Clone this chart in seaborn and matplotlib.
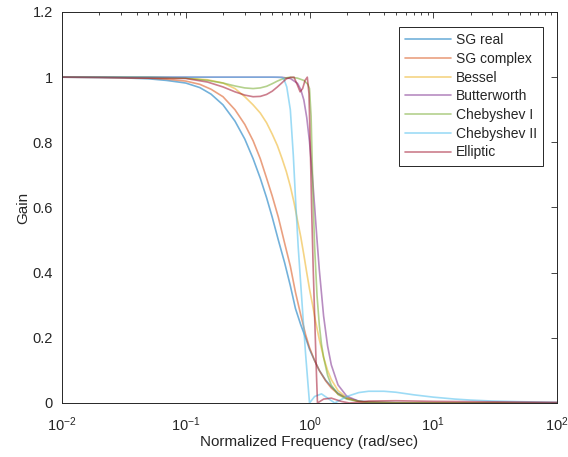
import matplotlib
matplotlib.use("Agg")
import matplotlib.pyplot as plt
from matplotlib.ticker import LogLocator, FuncFormatter, NullFormatter, MultipleLocator
import pandas as pd
import seaborn as sns

# Filter names, in plotting order, and their line colours
names = ["SG real", "SG complex", "Bessel", "Butterworth",
         "Chebyshev I", "Chebyshev II", "Elliptic"]
colors = ["#0072BD", "#D95319", "#EDB120", "#7E2F8E",
          "#77AC30", "#4DBEEE", "#A2142F"]

# Magnitude responses: normalized frequency (rad/sec) and gain
sg_real_w = [0.01, 0.02, 0.03, 0.05, 0.07, 0.1, 0.13, 0.16, 0.2, 0.25, 0.3, 0.35,
             0.4, 0.45, 0.5, 0.56, 0.63, 0.7, 0.77, 0.85, 0.93, 1.0, 1.1, 1.2,
             1.35, 1.5, 1.7, 2.0, 2.5, 3.0, 5.0, 10.0, 100.0]
sg_real_g = [1.0, 0.999, 0.998, 0.995, 0.99, 0.982, 0.968, 0.948, 0.915, 0.865, 0.81, 0.75,
             0.69, 0.63, 0.57, 0.5, 0.43, 0.36, 0.29, 0.24, 0.2, 0.165, 0.13, 0.1,
             0.07, 0.05, 0.03, 0.015, 0.006, 0.003, 0.001, 0.0, 0.0]

sg_cplx_w = [0.01, 0.02, 0.03, 0.05, 0.07, 0.1, 0.13, 0.16, 0.2, 0.25, 0.3, 0.35,
             0.4, 0.45, 0.5, 0.56, 0.63, 0.7, 0.77, 0.85, 0.93, 1.0, 1.1, 1.2,
             1.35, 1.5, 1.7, 2.0, 2.5, 3.0, 5.0, 100.0]
sg_cplx_g = [1.0, 1.0, 0.999, 0.997, 0.994, 0.988, 0.978, 0.963, 0.94, 0.9, 0.855, 0.805,
             0.75, 0.69, 0.635, 0.57, 0.49, 0.42, 0.34, 0.27, 0.21, 0.17, 0.13, 0.1,
             0.068, 0.046, 0.028, 0.014, 0.005, 0.002, 0.001, 0.0]

bessel_w = [0.01, 0.05, 0.1, 0.15, 0.2, 0.25, 0.3, 0.35, 0.4, 0.45, 0.5, 0.55, 0.6,
            0.65, 0.7, 0.75, 0.8, 0.85, 0.9, 0.95, 1.0, 1.06, 1.12, 1.2, 1.3, 1.4,
            1.5, 1.7, 2.0, 2.5, 3.0, 5.0, 100.0]
bessel_g = [1.0, 0.9995, 0.997, 0.992, 0.982, 0.965, 0.94, 0.915, 0.89, 0.86, 0.825, 0.79, 0.75,
            0.71, 0.665, 0.615, 0.56, 0.51, 0.455, 0.4, 0.35, 0.3, 0.25, 0.195, 0.14, 0.1,
            0.072, 0.038, 0.016, 0.005, 0.002, 0.0002, 0.0]

butter_w = [0.01, 0.3, 0.5, 0.6, 0.7, 0.8, 0.85, 0.9, 0.95, 1.0, 1.05, 1.1, 1.15,
            1.2, 1.3, 1.4, 1.5, 1.7, 2.0, 2.5, 3.0, 4.0, 100.0]
butter_g = [1.0, 1.0, 1.0, 0.9995, 0.996, 0.981, 0.962, 0.93, 0.876, 0.802, 0.707, 0.603, 0.501,
            0.409, 0.267, 0.175, 0.117, 0.0555, 0.0209, 0.0055, 0.0018, 0.0003, 0.0]

cheby1_w = [0.01, 0.05, 0.1, 0.15, 0.2, 0.25, 0.3, 0.35, 0.4, 0.45, 0.5, 0.55, 0.6,
            0.65, 0.7, 0.8, 0.9, 0.97, 1.0, 1.03, 1.05, 1.07, 1.1, 1.15, 1.2, 1.25,
            1.3, 1.4, 1.5, 1.7, 2.0, 2.5, 3.0, 5.0, 100.0]
cheby1_g = [1.0, 0.9995, 0.997, 0.99, 0.982, 0.973, 0.967, 0.965, 0.967, 0.972, 0.98, 0.988, 0.994,
            0.998, 1.0, 0.997, 0.99, 0.978, 0.965, 0.88, 0.75, 0.62, 0.48, 0.33, 0.24, 0.18,
            0.14, 0.085, 0.055, 0.026, 0.012, 0.005, 0.002, 0.0004, 0.0]

cheby2_w = [0.01, 0.3, 0.55, 0.6, 0.62, 0.655, 0.7, 0.74, 0.77, 0.81, 0.88, 0.93, 1.0,
            1.1, 1.25, 1.4, 1.6, 2.0, 2.5, 3.0, 4.0, 5.0, 7.0, 10.0, 15.0, 20.0,
            30.0, 50.0, 100.0]
cheby2_g = [1.0, 1.0, 1.0, 0.999, 0.995, 0.97, 0.9, 0.76, 0.63, 0.48, 0.28, 0.15, 0.0,
            0.02, 0.028, 0.015, 0.0, 0.02, 0.032, 0.036, 0.036, 0.033, 0.025, 0.018, 0.012, 0.009,
            0.006, 0.004, 0.002]

ellip_w = [0.01, 0.1, 0.15, 0.2, 0.25, 0.3, 0.35, 0.4, 0.45, 0.5, 0.55, 0.6, 0.65,
           0.7, 0.75, 0.8, 0.84, 0.88, 0.92, 0.96, 0.99, 1.02, 1.04, 1.07, 1.11, 1.14,
           1.16, 1.3, 1.5, 1.8, 2.1, 3.0, 5.0, 10.0, 100.0]
ellip_g = [1.0, 0.996, 0.985, 0.97, 0.955, 0.945, 0.94, 0.941, 0.947, 0.957, 0.97, 0.983, 0.995,
           0.999, 1.0, 0.975, 0.955, 0.965, 0.99, 1.0, 0.95, 0.75, 0.6, 0.42, 0.22, 0.08,
           0.0, 0.012, 0.015, 0.005, 0.0, 0.006, 0.007, 0.005, 0.002]

series = [(sg_real_w, sg_real_g), (sg_cplx_w, sg_cplx_g), (bessel_w, bessel_g),
          (butter_w, butter_g), (cheby1_w, cheby1_g), (cheby2_w, cheby2_g),
          (ellip_w, ellip_g)]

frames = []
for name, (w, g) in zip(names, series):
    frames.append(pd.DataFrame({"filter": name, "w": w, "gain": g}))
df = pd.concat(frames, ignore_index=True)

sns.set_theme(style="white")
plt.rcParams["font.family"] = ["Liberation Sans", "DejaVu Sans"]
plt.rcParams["mathtext.fontset"] = "custom"
plt.rcParams["mathtext.rm"] = "Liberation Sans"
plt.rcParams["mathtext.it"] = "Liberation Sans:italic"

axis_col = "#262626"
fig = plt.figure(figsize=(5.68, 4.57), dpi=100)
ax = fig.add_axes([62 / 568, 1 - 403 / 457, (557 - 62) / 568, (403 - 12) / 457])

sns.lineplot(data=df, x="w", y="gain", hue="filter", hue_order=names,
             palette=colors, estimator=None, sort=False, legend=False,
             linewidth=1.2, alpha=0.55, ax=ax)

ax.set_xscale("log")
ax.set_xlim(0.01, 100)
ax.set_ylim(0, 1.2)
ax.yaxis.set_major_locator(MultipleLocator(0.2))
ax.yaxis.set_major_formatter(FuncFormatter(lambda v, p: f"{v:g}"))
ax.xaxis.set_major_locator(LogLocator(base=10, numticks=10))
ax.xaxis.set_minor_locator(LogLocator(base=10, subs=range(2, 10), numticks=20))
ax.xaxis.set_minor_formatter(NullFormatter())

for s in ax.spines.values():
    s.set_visible(True)
    s.set_color(axis_col)
    s.set_linewidth(0.7)
ax.tick_params(which="both", direction="in", top=True, right=True,
               color=axis_col, width=0.6, labelcolor=axis_col, labelsize=10.5)
ax.tick_params(which="major", length=4.5)
ax.tick_params(which="minor", length=2.5)
ax.tick_params(axis="x", pad=9)
ax.tick_params(axis="y", pad=6.5)

ax.set_xlabel("Normalized Frequency (rad/sec)", fontsize=11, color=axis_col, labelpad=1)
ax.set_ylabel("Gain", fontsize=11, color=axis_col, labelpad=2)

leg = ax.legend(ax.lines[:7], names, loc="upper right",
                bbox_to_anchor=(0.972, 0.962), borderaxespad=0, fontsize=10,
                frameon=True, fancybox=False, edgecolor=axis_col, framealpha=1,
                handlelength=3.3, handletextpad=0.36, labelspacing=0.34,
                borderpad=0.45)
leg.get_frame().set_linewidth(0.7)
for t in leg.get_texts():
    t.set_color(axis_col)

fig.savefig("out.png", dpi=100)
